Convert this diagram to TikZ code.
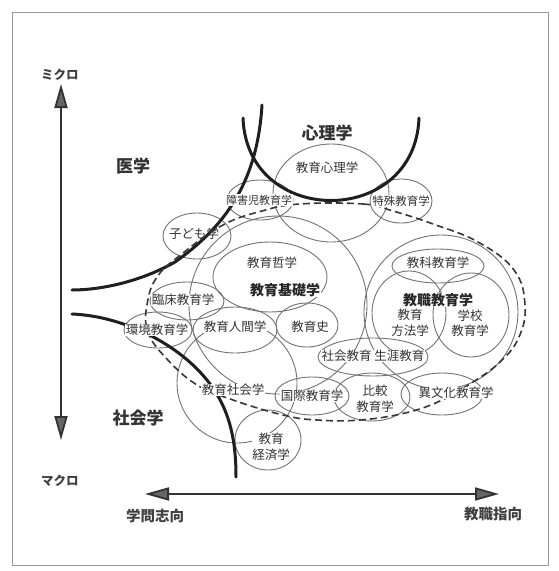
\documentclass[tikz,border=0pt]{standalone}
\usepackage{fontspec}
\newfontfamily\jp{Noto Sans CJK JP}
\usetikzlibrary{arrows.meta}
\begin{document}
\begin{tikzpicture}[x=1pt,y=-1pt,
  ell/.style={draw=black!55, line width=0.9pt},
  lab/.style={font=\jp\fontsize{12.5}{15.5}\selectfont, text=black!80, fill=white, inner sep=0.6pt, align=center},
  fieldlab/.style={font=\jp\bfseries\fontsize{17}{20}\selectfont, text=black!80},
  corelab/.style={font=\jp\bfseries\fontsize{14}{16}\selectfont, text=black!85, fill=white, inner sep=0.6pt},
  axlab/.style={font=\jp\bfseries\fontsize{12.5}{15}\selectfont, text=black!75},
  dirlab/.style={font=\jp\bfseries\fontsize{14.5}{17}\selectfont, text=black!75},
  frontier/.style={line width=3pt, draw=black!88, line cap=round},
  dashring/.style={dash pattern=on 7pt off 4pt, line width=1.6pt, draw=black!78},
  axisline/.style={line width=1.8pt, draw=black!80, {Triangle[length=24pt,width=13pt,fill=black!60]}-{Triangle[length=24pt,width=13pt,fill=black!60]}}
]
\useasboundingbox (0,0) rectangle (558,571);
\fill[white] (0,0) rectangle (558,571);
\draw[black!40, line width=0.7pt] (12,12) rectangle (548,565);

% ellipses
\draw[ell] (331,193) ellipse [x radius=58pt, y radius=49pt];
\draw[ell] (260,200) ellipse [x radius=33pt, y radius=20pt];
\draw[ell] (401,201) ellipse [x radius=31pt, y radius=22pt];
\draw[ell] (197,236) ellipse [x radius=34pt, y radius=23pt];
\draw[ell] (278,305) circle [radius=89pt];
\draw[ell] (270,277) ellipse [x radius=57pt, y radius=35pt];
\draw[ell] (187,301) ellipse [x radius=37pt, y radius=19pt];
\draw[ell] (158,330) ellipse [x radius=34pt, y radius=18pt];
\draw[ell] (235,330) ellipse [x radius=42pt, y radius=23pt];
\draw[ell] (307,325) ellipse [x radius=31pt, y radius=22pt];
\draw[ell] (441,312) circle [radius=77pt];
\draw[ell] (438,266) ellipse [x radius=46pt, y radius=17pt];
\draw[ell] (409,313) ellipse [x radius=37pt, y radius=42pt];
\draw[ell] (471,315) ellipse [x radius=38pt, y radius=42pt];
\draw[ell] (373,357) ellipse [x radius=55pt, y radius=19pt];
\draw[ell] (237,383) circle [radius=60pt];
\draw[ell] (268,440) ellipse [x radius=33pt, y radius=30pt];
\draw[ell] (312,396) ellipse [x radius=37pt, y radius=19pt];
\draw[ell] (372,397) ellipse [x radius=38pt, y radius=24pt];
\draw[ell] (442,394) ellipse [x radius=41pt, y radius=21pt];

% discipline frontiers
\draw[frontier] (243,118) .. controls (247,228) and (415,228) .. (419,118);
\draw[frontier] (262,105) .. controls (258,170) and (235,220) .. (175,262)
                          .. controls (140,282) and (100,290) .. (72,290);
\draw[frontier] (72,314) .. controls (120,316) and (170,340) .. (200,372)
                         .. controls (228,402) and (236,435) .. (236,477);

% pedagogy domain
\draw[dashring] plot[smooth cycle, tension=0.7] coordinates {(300,204) (363,204) (393,211) (433,224) (478,242) (514,270) (525,305) (519,337) (500,362) (470,384) (440,401) (405,413) (360,420) (317,420) (283,415) (233,400) (197,385) (166,358) (148,332) (147,305) (157,277) (183,253) (223,225) (262,211)};

% axes
\coordinate (vtop) at (61,84);
\coordinate (vbot) at (61,440);
\coordinate (hleft) at (145,494);
\coordinate (hright) at (499,494);
\draw[axisline] (vbot) -- (vtop);
\draw[axisline] (hleft) -- (hright);
\node[axlab] (micro) at (60,75) {ミクロ};
\node[axlab] (macro) at (60,481) {マクロ};
\node[dirlab] (acad) at (155,516) {学問志向};
\node[dirlab] (prof) at (493,514) {教職指向};

% field labels
\node[fieldlab] (med) at (133,166) {医学};
\node[fieldlab] (psy) at (327,133) {心理学};
\node[fieldlab] (soc) at (138,418) {社会学};

% sub-field labels
\node[lab] (edpsy) at (327,168) {教育心理学};
\node[lab, font=\jp\fontsize{11}{13}\selectfont] (handi) at (259,200) {障害児教育学};
\node[lab, font=\jp\fontsize{11.5}{13}\selectfont] (special) at (401,201) {特殊教育学};
\node[lab, fill=none] (child) at (194,234) {子ども学};
\node[lab] (phil) at (272,263) {教育哲学};
\node[corelab] (found) at (285,290) {教育基礎学};
\node[lab] (clin) at (183,300) {臨床教育学};
\node[lab] (env) at (157,330) {環境教育学};
\node[lab] (anth) at (235,327) {教育人間学};
\node[lab] (hist) at (310,327) {教育史};
\node[lab] (subj) at (438,263) {教科教育学};
\node[corelab] (teach) at (438,300) {教職教育学};
\node[lab] (method) at (410,323) {教育\\方法学};
\node[lab] (school) at (470,323) {学校\\教育学};
\node[lab] (life) at (373,356) {社会教育 生涯教育};
\node[lab] (socio) at (233,390) {教育社会学};
\node[lab] (intl) at (312,396) {国際教育学};
\node[lab] (comp) at (375,399) {比較\\教育学};
\node[lab] (cross) at (456,393) {異文化教育学};
\node[lab] (econ) at (271,447) {教育\\経済学};
\end{tikzpicture}
\end{document}
